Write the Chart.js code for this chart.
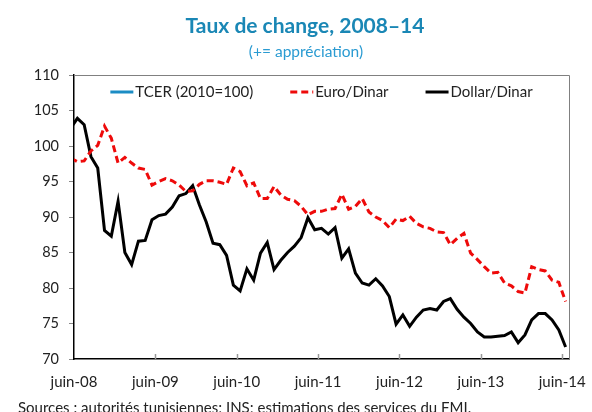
<!DOCTYPE html>
<html lang="fr">
<head>
<meta charset="utf-8">
<title>Taux de change, 2008–14</title>
<script src="https://cdn.jsdelivr.net/npm/chart.js@4.4.1/dist/chart.umd.min.js"></script>
<style>
    html, body { margin: 0; padding: 0; background: #fff; }
    #wrap { width: 592px; height: 412px; }
</style>
</head>
<body>
<div id="wrap"><canvas id="fxChart" width="592" height="412"></canvas></div>
<script>
// Monthly series, from mai-08 (just left of the axis) to juin-14
const firstMonth = -1;   // mai-08, month index relative to juin-08

const dollarDinar = [
    102.5,
    103.9, 103.0, 98.5, 96.9, 88.1, 87.3, 92.2, 85.0, 83.3, 86.6, 86.7, 89.6,
    90.2, 90.4, 91.4, 93.0, 93.3, 94.4, 91.7, 89.3, 86.3, 86.1, 84.6, 80.4,
    79.6, 82.7, 81.1, 84.9, 86.4, 82.6, 83.9, 85.0, 85.9, 87.1, 89.9, 88.2,
    88.4, 87.6, 88.5, 84.2, 85.5, 82.1, 80.7, 80.4, 81.3, 80.3, 78.8, 74.9,
    76.2, 74.6, 75.9, 76.9, 77.1, 76.9, 78.1, 78.5, 77.0, 75.9, 75.0, 73.8,
    73.1, 73.1, 73.2, 73.3, 73.8, 72.3, 73.4, 75.5, 76.4, 76.4, 75.5, 74.1,
    71.7
];

const euroDinar = [
    98.3,
    97.8, 97.9, 99.3, 100.1, 102.8, 101.1, 97.6, 98.4, 97.6, 96.9, 96.7, 94.5,
    95.0, 95.4, 95.1, 94.5, 93.6, 93.7, 94.6, 95.1, 95.1, 94.9, 94.6, 96.9,
    96.4, 94.4, 94.8, 92.6, 92.6, 94.3, 93.1, 92.5, 92.3, 91.5, 90.3, 90.8,
    90.8, 91.1, 91.2, 93.2, 91.1, 91.5, 92.6, 90.7, 90.0, 89.5, 88.5, 89.7,
    89.5, 90.1, 89.1, 88.6, 88.4, 87.9, 87.8, 86.1, 87.0, 87.7, 84.9, 84.0,
    83.0, 82.1, 82.2, 80.7, 80.3, 79.5, 79.3, 83.0, 82.6, 82.4, 81.1, 80.8,
    78.1
];

// TCER appears in the legend only
const tcer = [];

const tickMonths = [0, 12, 24, 36, 48, 60, 72];
const tickLabels = ["juin-08", "juin-09", "juin-10", "juin-11", "juin-12", "juin-13", "juin-14"];

const titleText = "Taux de change, 2008–14";
const subtitleText = "(+= appréciation)";
const sourceText = "Sources : autorités tunisiennes; INS; estimations des services du FMI.";

const FONT = "Lato, 'Open Sans', sans-serif";

// each value is plotted mid-month
function toPoints(values) {
    return values.map((v, i) => ({ x: firstMonth + i + 0.5, y: v }));
}

const decorPlugin = {
    id: "decor",
    afterDraw(chart) {
        const { ctx, chartArea: a, scales } = chart;
        ctx.save();

        // title + subtitle
        ctx.textAlign = "center";
        ctx.textBaseline = "alphabetic";
        ctx.fillStyle = "#1a87b5";
        ctx.font = "bold 21px " + FONT;
        ctx.fillText(titleText, 305, 33);
        ctx.fillStyle = "#2a9bd2";
        ctx.font = "15.5px " + FONT;
        ctx.fillText(subtitleText, 306, 57);

        // top and right frame
        ctx.strokeStyle = "#808080";
        ctx.lineWidth = 1;
        ctx.beginPath();
        ctx.moveTo(a.left, a.top + 0.5);
        ctx.lineTo(a.right + 0.5, a.top + 0.5);
        ctx.lineTo(a.right + 0.5, a.bottom);
        ctx.stroke();

        // inward tick marks on the x axis
        ctx.strokeStyle = "#999";
        ctx.lineWidth = 1.5;
        tickMonths.forEach(m => {
            if (m === 0) return;
            const x = Math.round(scales.x.getPixelForValue(m)) + 0.5;
            ctx.beginPath();
            ctx.moveTo(x, a.bottom);
            ctx.lineTo(x, a.bottom - 5);
            ctx.stroke();
        });

        // legend inside the plot, centered
        ctx.font = "15px " + FONT;
        ctx.textAlign = "left";
        ctx.textBaseline = "middle";
        const sample = 23, gapText = 2, gapItem = 37, ly = 92;
        const items = chart.data.datasets;
        const widths = items.map(d => ctx.measureText(d.label).width);
        const total = widths.reduce((s, w) => s + w + sample + gapText, 0) + gapItem * (items.length - 1);
        let x = (a.left + a.right) / 2 - total / 2;
        items.forEach((d, i) => {
            ctx.strokeStyle = d.borderColor;
            ctx.lineWidth = 3;
            ctx.setLineDash(d.borderDash || []);
            ctx.beginPath();
            ctx.moveTo(x, ly);
            ctx.lineTo(x + sample, ly);
            ctx.stroke();
            ctx.setLineDash([]);
            ctx.fillStyle = "#222";
            ctx.fillText(d.label, x + sample + gapText, ly);
            x += sample + gapText + widths[i] + gapItem;
        });

        // source line (cut by the bottom edge, as in the original)
        ctx.textBaseline = "alphabetic";
        ctx.fillStyle = "#222";
        ctx.font = "15px " + FONT;
        ctx.fillText(sourceText, 18, 413);

        ctx.restore();
    }
};

new Chart(document.getElementById("fxChart").getContext("2d"), {
    type: "line",
    data: {
        datasets: [
            {
                label: "TCER (2010=100)",
                data: toPoints(tcer),
                borderColor: "#1b8cc4",
                borderWidth: 3,
                pointRadius: 0
            },
            {
                label: "Euro/Dinar",
                data: toPoints(euroDinar),
                borderColor: "#ee0a0a",
                borderWidth: 3,
                borderDash: [7, 4],
                pointRadius: 0,
                tension: 0,
                clip: { left: 0, top: false, right: false, bottom: false }
            },
            {
                label: "Dollar/Dinar",
                data: toPoints(dollarDinar),
                borderColor: "#000",
                borderWidth: 3,
                pointRadius: 0,
                tension: 0,
                clip: { left: 0, top: false, right: false, bottom: false }
            }
        ]
    },
    options: {
        responsive: false,
        animation: false,
        layout: { padding: { top: 75, right: 23, left: 0, bottom: 0 } },
        plugins: {
            legend: { display: false },
            title: { display: false },
            tooltip: { enabled: false }
        },
        scales: {
            x: {
                type: "linear",
                min: 0,
                max: 73,
                afterBuildTicks: scale => {
                    scale.ticks = tickMonths.map(v => ({ value: v }));
                },
                afterFit: scale => {
                    scale.height = 53;
                    scale.paddingLeft = 0;
                    scale.paddingRight = 0;
                },
                ticks: {
                    callback: v => tickLabels[tickMonths.indexOf(v)],
                    autoSkip: false,
                    maxRotation: 0,
                    padding: 14,
                    color: "#222",
                    font: { family: FONT, size: 15 }
                },
                grid: { drawOnChartArea: false, drawTicks: false },
                border: { color: "#000", width: 1.5 }
            },
            y: {
                min: 70,
                max: 110,
                afterFit: scale => { scale.width = 74; },
                ticks: {
                    stepSize: 5,
                    padding: 10,
                    color: "#222",
                    font: { family: FONT, size: 14.5 }
                },
                grid: { drawOnChartArea: false, drawTicks: true, tickLength: 5, color: "#888" },
                border: { color: "#000", width: 1.5 }
            }
        }
    },
    plugins: [decorPlugin]
});
</script>
</body>
</html>
